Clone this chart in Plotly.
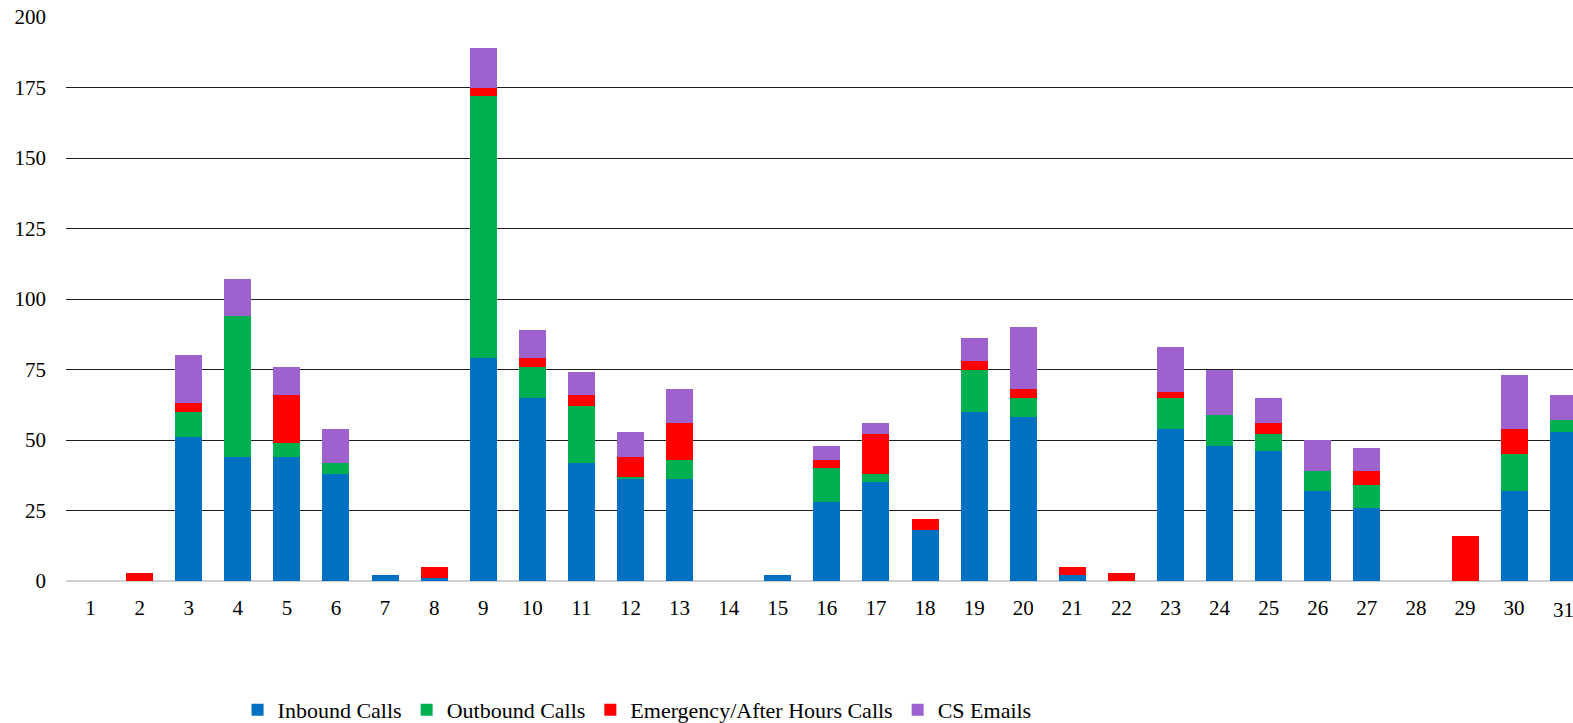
import plotly.graph_objects as go

# Day of month
days = list(range(1, 32))

# Daily counts per contact channel
inbound_calls = [0, 0, 51, 44, 44, 38, 2, 1, 79, 65, 42, 36, 36, 0, 2, 28,
                 35, 18, 60, 58, 2, 0, 54, 48, 46, 32, 26, 0, 0, 32, 53]
outbound_calls = [0, 0, 9, 50, 5, 4, 0, 0, 93, 11, 20, 1, 7, 0, 0, 12,
                  3, 0, 15, 7, 0, 0, 11, 11, 6, 7, 8, 0, 0, 13, 4]
emergency_calls = [0, 3, 3, 0, 17, 0, 0, 4, 3, 3, 4, 7, 13, 0, 0, 3,
                   14, 4, 3, 3, 3, 3, 2, 0, 4, 0, 5, 0, 16, 9, 0]
cs_emails = [0, 0, 17, 13, 10, 12, 0, 0, 14, 10, 8, 9, 12, 0, 0, 5,
             4, 0, 8, 22, 0, 0, 16, 16, 9, 11, 8, 0, 0, 19, 9]

y_ticks = [0, 25, 50, 75, 100, 125, 150, 175, 200]

series = [
    ("Inbound Calls", inbound_calls, "#0070C0"),
    ("Outbound Calls", outbound_calls, "#00B050"),
    ("Emergency/After Hours Calls", emergency_calls, "#FF0000"),
    ("CS Emails", cs_emails, "#9E62CE"),
]

font_family = "Liberation Serif, Times New Roman, serif"
x_max = 31.2  # the last day's column runs past the right edge

fig = go.Figure()
for name, values, color in series:
    fig.add_trace(go.Bar(
        x=days,
        y=values,
        name=name,
        marker=dict(color=color, line=dict(width=0)),
    ))

# Tick labels that would spill past the edge are dropped by the axis,
# so those days get their label as an annotation that the page edge clips.
visible_days = [d for d in days if d + 0.3 <= x_max]
edge_days = [d for d in days if d + 0.3 > x_max]
for d in edge_days:
    fig.add_annotation(
        x=d, y=0, xref="x", yref="y",
        text=str(d), showarrow=False,
        yanchor="middle", yshift=-29,
        font=dict(family=font_family, size=21, color="#000000"),
    )

fig.update_layout(
    barmode="stack",
    bargap=0.45,
    width=1573,
    height=723,
    margin=dict(l=66, r=0, t=17, b=142, autoexpand=False),
    paper_bgcolor="white",
    plot_bgcolor="white",
    font=dict(family=font_family, size=21, color="#000000"),
    showlegend=True,
    legend=dict(
        orientation="h",
        xref="container",
        yref="container",
        x=0.405,
        xanchor="center",
        y=0.018,
        yanchor="middle",
        font=dict(family=font_family, size=22, color="#000000"),
        itemsizing="constant",
        traceorder="normal",
    ),
    xaxis=dict(
        range=[0.5, x_max],
        tickmode="array",
        tickvals=visible_days,
        ticktext=[str(d) for d in visible_days],
        showgrid=False,
        zeroline=False,
        showline=False,
        ticks="",
        ticklen=0,
        ticklabelstandoff=12,
        tickfont=dict(family=font_family, size=21),
        fixedrange=True,
    ),
    yaxis=dict(
        range=[0, 200],
        tickmode="array",
        tickvals=y_ticks,
        showgrid=True,
        gridcolor="#1e1e1e",
        gridwidth=1,
        zeroline=True,
        zerolinecolor="#d0d0d0",
        zerolinewidth=2,
        showline=False,
        ticks="",
        ticklabelstandoff=19,
        tickfont=dict(family=font_family, size=21),
        fixedrange=True,
    ),
)

fig.write_html("out.html")
